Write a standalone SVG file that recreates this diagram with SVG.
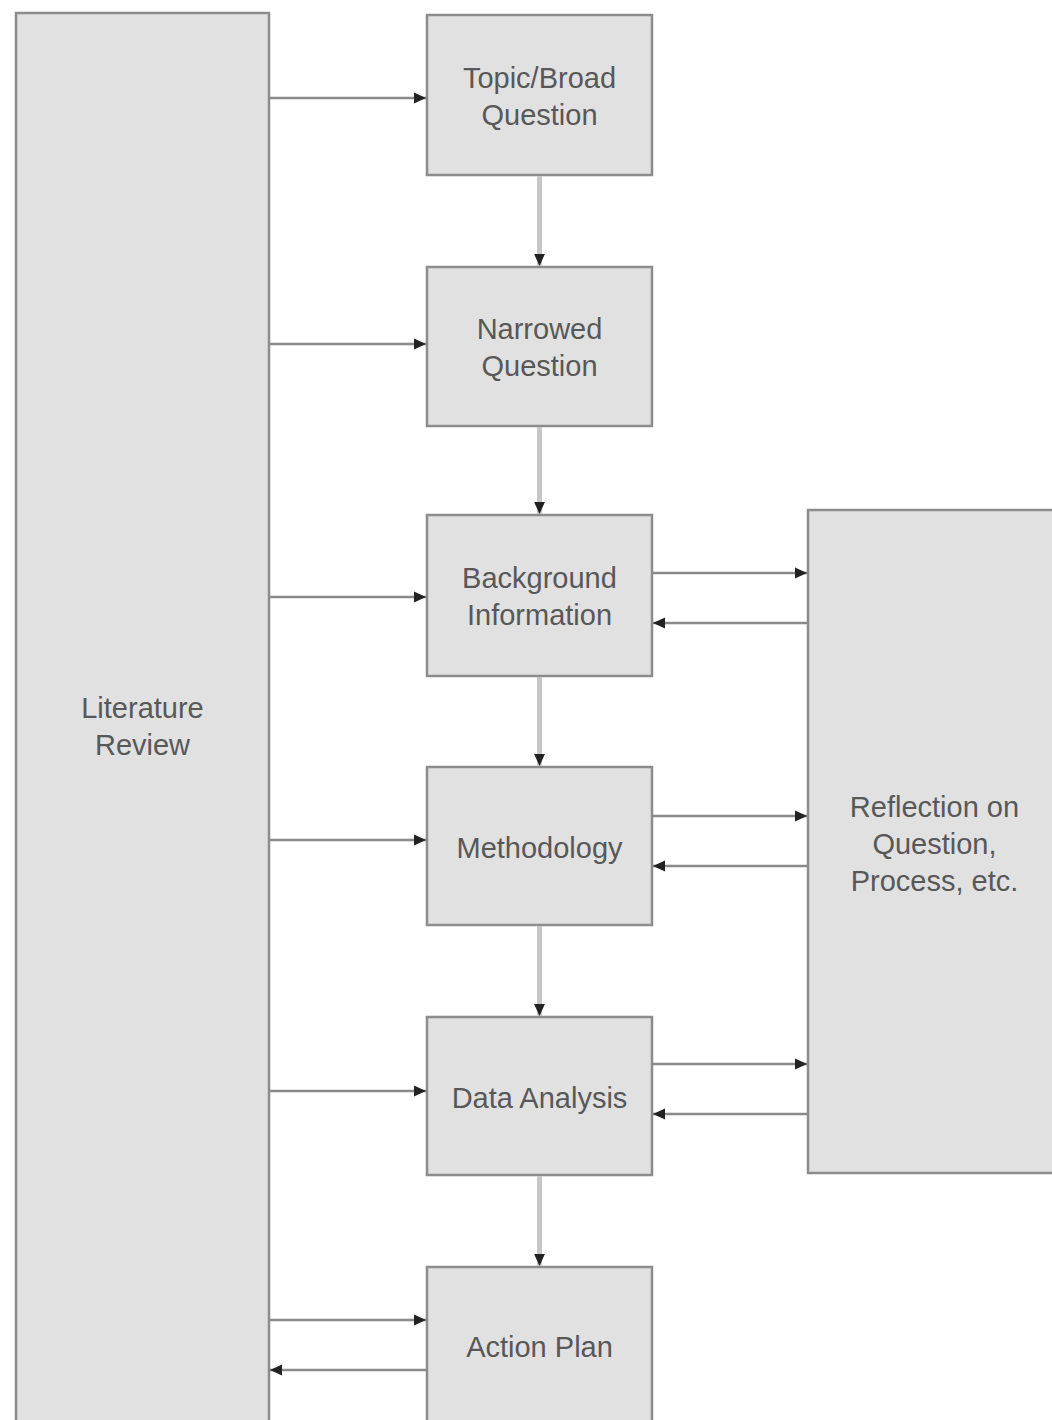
<svg xmlns="http://www.w3.org/2000/svg" width="1052" height="1420" viewBox="0 0 1052 1420">
<style>
.box{fill:#e1e1e1;stroke:#8c8c8c;stroke-width:2.5}
.lbl{font-family:"Liberation Sans",Arial,sans-serif;font-size:29px;fill:#585858;text-anchor:middle}
.h{stroke:#8a8a8a;stroke-width:2.5;fill:none;marker-end:url(#ah)}
.v{stroke:#c6c6c6;stroke-width:5;fill:none;marker-end:url(#ah)}
</style>
<defs>
<marker id="ah" markerUnits="userSpaceOnUse" markerWidth="12" markerHeight="12" viewBox="0 0 10 10" refX="10" refY="5" orient="auto">
<path d="M0,0.5 L10,5 L0,9.5 z" fill="#222"/>
</marker>
</defs>
<rect width="1052" height="1420" fill="#ffffff"/>
<g id="literature-review"><rect class="box" x="16" y="13" width="253" height="1430"/><text class="lbl" x="142.5" y="718">Literature</text><text class="lbl" x="142.5" y="755">Review</text></g>
<g id="topic"><rect class="box" x="427" y="15" width="225" height="160"/><text class="lbl" x="539.5" y="88">Topic/Broad</text><text class="lbl" x="539.5" y="125">Question</text></g>
<g id="narrowed"><rect class="box" x="427" y="267" width="225" height="159"/><text class="lbl" x="539.5" y="339">Narrowed</text><text class="lbl" x="539.5" y="376">Question</text></g>
<g id="background"><rect class="box" x="427" y="515" width="225" height="161"/><text class="lbl" x="539.5" y="588">Background</text><text class="lbl" x="539.5" y="625">Information</text></g>
<g id="methodology"><rect class="box" x="427" y="767" width="225" height="158"/><text class="lbl" x="539.5" y="858">Methodology</text></g>
<g id="data-analysis"><rect class="box" x="427" y="1017" width="225" height="158"/><text class="lbl" x="539.5" y="1108">Data Analysis</text></g>
<g id="action-plan"><rect class="box" x="427" y="1267" width="225" height="170"/><text class="lbl" x="539.5" y="1357">Action Plan</text></g>
<g id="reflection"><rect class="box" x="808" y="510" width="260" height="663"/><text class="lbl" x="934.5" y="817">Reflection on</text><text class="lbl" x="934.5" y="854">Question,</text><text class="lbl" x="934.5" y="891">Process, etc.</text></g>
<g id="connectors">
<path class="v" d="M539.5,176 V266"/>
<path class="v" d="M539.5,427 V514"/>
<path class="v" d="M539.5,677 V766"/>
<path class="v" d="M539.5,926 V1016"/>
<path class="v" d="M539.5,1176 V1266"/>
<path class="h" d="M270,98 H426"/>
<path class="h" d="M270,344 H426"/>
<path class="h" d="M270,597 H426"/>
<path class="h" d="M270,840 H426"/>
<path class="h" d="M270,1091 H426"/>
<path class="h" d="M270,1320 H426"/>
<path class="h" d="M426,1370 H270"/>
<path class="h" d="M653,573 H807"/>
<path class="h" d="M807,623 H653"/>
<path class="h" d="M653,816 H807"/>
<path class="h" d="M807,866 H653"/>
<path class="h" d="M653,1064 H807"/>
<path class="h" d="M807,1114 H653"/>
</g>
</svg>
